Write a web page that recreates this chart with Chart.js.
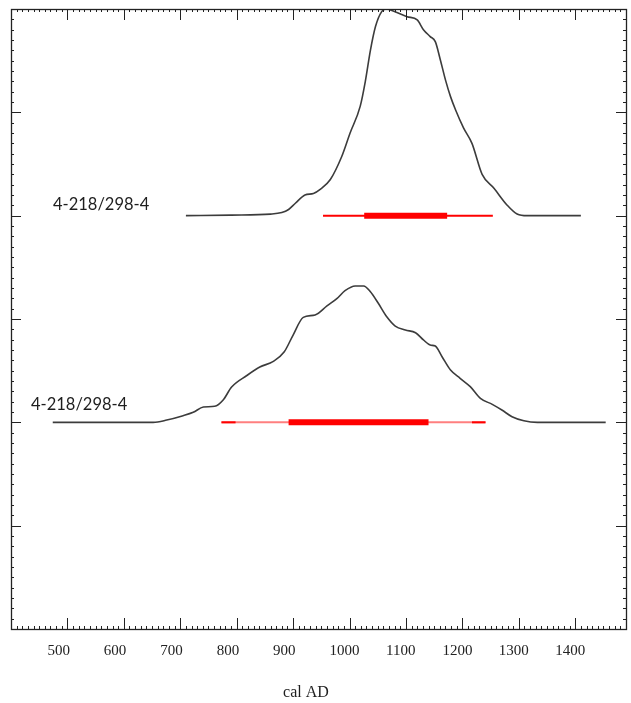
<!DOCTYPE html>
<html>
<head>
<meta charset="utf-8">
<script src="https://cdn.jsdelivr.net/npm/chart.js@4.4.1/dist/chart.umd.min.js"></script>
<style>
  html, body { margin: 0; padding: 0; background: #fff; }
</style>
</head>
<body>
<canvas id="calChart" width="631" height="703"></canvas>
<script>
// sample name shown next to each distribution
const sampleName = "4-218/298-4";

// upper distribution: cal AD years and probability height above its baseline
const yearsA = [710, 790, 860, 880, 892, 904, 921, 936, 948, 966, 986, 1001, 1019, 1028, 1037, 1046, 1057, 1066, 1075, 1084, 1102, 1120, 1131, 1143, 1152, 1161, 1170, 1179, 1188, 1202, 1217, 1235, 1256, 1279, 1297, 1315, 1410];
const probA  = [0, 0.005, 0.015, 0.03, 0.06, 0.12, 0.2, 0.215, 0.255, 0.35, 0.57, 0.8, 1.06, 1.3, 1.6, 1.83, 1.975, 2.0, 1.985, 1.965, 1.926, 1.894, 1.8, 1.733, 1.684, 1.507, 1.314, 1.152, 1.023, 0.85, 0.7, 0.4, 0.265, 0.104, 0.016, 0, 0];

// lower distribution
const yearsB = [474, 652, 676, 705, 723, 741, 761, 776, 791, 818, 841, 865, 884, 900, 918, 939, 960, 978, 992, 1010, 1025, 1037, 1051, 1066, 1081, 1099, 1117, 1131, 1143, 1152, 1164, 1179, 1196, 1214, 1232, 1253, 1270, 1288, 1309, 1333, 1454];
const probB  = [0, 0, 0.022, 0.064, 0.097, 0.148, 0.155, 0.216, 0.342, 0.453, 0.535, 0.59, 0.68, 0.845, 1.016, 1.039, 1.126, 1.2, 1.274, 1.32, 1.32, 1.264, 1.152, 1.022, 0.932, 0.893, 0.867, 0.797, 0.748, 0.738, 0.635, 0.506, 0.426, 0.345, 0.232, 0.174, 0.119, 0.054, 0.015, 0, 0];

// baselines on the y axis
const baseA = 4;
const baseB = 2;

// highest posterior density ranges (95.4% thin, 68.2% thick)
const range95A = [953, 1254];
const range68A = [1026, 1173];
const range95B = [773, 1241];
const range95BEnds = [[773, 798], [1217, 1241]];
const range68B = [892, 1140];

// axis
const xMin = 400, xMax = 1490;
const tickYears = [500, 600, 700, 800, 900, 1000, 1100, 1200, 1300, 1400];

const toPts = (xs, ys, base) => xs.map((v, i) => ({ x: v, y: base + ys[i] }));
const seg = (r, base) => [{ x: r[0], y: base }, { x: r[1], y: base }];

function bar(r, base, width, color) {
  return {
    data: seg(r, base), borderColor: color, borderWidth: width,
    borderCapStyle: 'butt', pointRadius: 0, tension: 0
  };
}

const datasets = [
  bar(range68A, baseA, 6, '#ff0000'),
  bar(range95A, baseA, 2, '#ff0000'),
  bar(range68B, baseB, 6, '#ff0000'),
  ...range95BEnds.map(r => bar(r, baseB, 2, '#ff0000')),
  bar(range95B, baseB, 2, 'rgba(255,0,0,0.5)'),
  {
    data: toPts(yearsA, probA, baseA), borderColor: '#3c3c3c', borderWidth: 1.6,
    pointRadius: 0, cubicInterpolationMode: 'monotone'
  },
  {
    data: toPts(yearsB, probB, baseB), borderColor: '#3c3c3c', borderWidth: 1.6,
    pointRadius: 0, cubicInterpolationMode: 'monotone'
  }
];

// frame, inward ticks on all four sides, sample names and axis title
const frameTicks = {
  id: 'frameTicks',
  afterDraw(chart) {
    const { ctx, chartArea: a, scales: { x, y } } = chart;
    ctx.save();
    ctx.strokeStyle = '#222';
    ctx.lineWidth = 1;
    ctx.beginPath();
    const ln = (x1, y1, x2, y2) => { ctx.moveTo(x1, y1); ctx.lineTo(x2, y2); };
    for (let v = xMin; v <= xMax; v += 10) {
      const px = Math.round(x.getPixelForValue(v)) + 0.5;
      const len = v % 100 === 0 ? 11 : 3;
      ln(px, a.top, px, a.top + len);
      ln(px, a.bottom, px, a.bottom - len);
    }
    for (let k = 0; k <= 60; k++) {
      const py = Math.round(y.getPixelForValue(k / 10)) + 0.5;
      const len = k % 10 === 0 ? 10 : 3;
      ln(a.left, py, a.left + len, py);
      ln(a.right, py, a.right - len, py);
    }
    ctx.stroke();
    ctx.lineWidth = 1.3;
    ctx.strokeRect(Math.round(a.left) + 0.5, Math.round(a.top) + 0.5,
      Math.round(a.right - a.left), Math.round(a.bottom - a.top));

    ctx.fillStyle = '#1e1e1e';
    ctx.font = '16.5px Lato';
    ctx.textBaseline = 'alphabetic';
    ctx.textAlign = 'left';
    ctx.fillText(sampleName, a.left + 42, y.getPixelForValue(baseA) - 6);
    ctx.fillText(sampleName, a.left + 20, y.getPixelForValue(baseB) - 12);

    ctx.font = '16px "Liberation Serif"';
    ctx.textAlign = 'center';
    ctx.fillText('cal AD', 306, 697);
    ctx.restore();
  }
};

new Chart(document.getElementById('calChart'), {
  type: 'line',
  data: { datasets },
  options: {
    responsive: false,
    animation: false,
    layout: { padding: { left: 11, top: 9, right: 5, bottom: 30 } },
    plugins: { legend: { display: false }, tooltip: { enabled: false } },
    scales: {
      x: {
        type: 'linear', min: xMin, max: xMax,
        afterBuildTicks: s => { s.ticks = tickYears.map(v => ({ value: v })); },
        ticks: {
          align: 'start', labelOffset: -20, padding: 13, maxRotation: 0,
          callback: v => String(v),
          color: '#222', font: { family: '"Liberation Serif"', size: 15 }
        },
        grid: { display: false, drawTicks: false },
        border: { display: false }
      },
      y: { display: false, min: 0, max: 6 }
    }
  },
  plugins: [frameTicks]
});
</script>
</body>
</html>
